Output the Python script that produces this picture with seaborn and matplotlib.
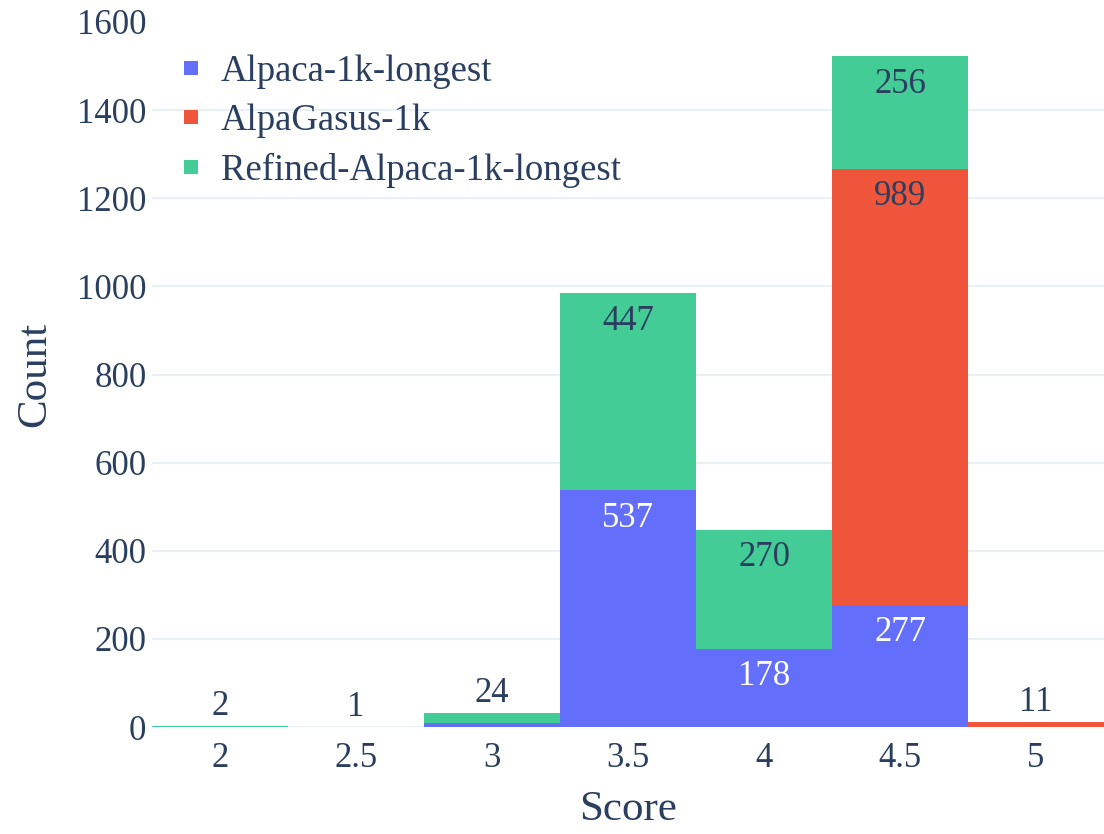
import numpy as np
import pandas as pd
import matplotlib
matplotlib.use("Agg")
import matplotlib.pyplot as plt
from matplotlib.lines import Line2D
import seaborn as sns

# Score bins and per-dataset counts
scores = [2, 2.5, 3, 3.5, 4, 4.5, 5]
score_labels = ["2", "2.5", "3", "3.5", "4", "4.5", "5"]
alpaca_longest = [0, 1, 8, 537, 178, 277, 0]
alpagasus = [0, 0, 0, 0, 0, 989, 11]
refined_longest = [2, 0, 24, 447, 270, 256, 0]

series_names = ["Alpaca-1k-longest", "AlpaGasus-1k", "Refined-Alpaca-1k-longest"]
series_values = [alpaca_longest, alpagasus, refined_longest]
colors = {"Alpaca-1k-longest": "#636EFA",
          "AlpaGasus-1k": "#EF553B",
          "Refined-Alpaca-1k-longest": "#44CC96"}
label_colors = {"Alpaca-1k-longest": "white",
                "AlpaGasus-1k": "#2a3f5f",
                "Refined-Alpaca-1k-longest": "#2a3f5f"}

TEXT = "#2a3f5f"
GRID = "#EBF0F8"

df = pd.DataFrame(
    [(s, name, v) for name, vals in zip(series_names, series_values)
     for s, v in zip(scores, vals)],
    columns=["Score", "Dataset", "Count"],
)

sns.set_theme(style="white")
plt.rcParams["font.family"] = ["Liberation Serif", "DejaVu Serif"]
plt.rcParams["text.color"] = TEXT

fig = plt.figure(figsize=(11.04, 8.34), dpi=100)
ax = fig.add_axes([152 / 1104, 107 / 834, 952 / 1104, 705 / 834])

# horizontal grid
for yv in range(200, 1600, 200):
    ax.axhline(yv, color=GRID, lw=1.5, zorder=0)
ax.axhline(0, color=GRID, lw=2.5, zorder=0)

edges = [1.75 + 0.5 * k for k in range(8)]
# seaborn stacks the last hue level at the bottom
sns.histplot(data=df, x="Score", weights="Count", hue="Dataset",
             hue_order=series_names[::-1], palette=colors,
             multiple="stack", bins=edges, element="bars",
             alpha=1, linewidth=0, legend=False, ax=ax, zorder=2)

# value labels: inside near the top when tall enough, above the stack otherwise
cum = np.zeros(len(scores))
tops = np.sum(np.array(series_values), axis=0)
for name, vals in zip(series_names, series_values):
    for i, (s, v) in enumerate(zip(scores, vals)):
        if v <= 0:
            continue
        top = cum[i] + v
        if v >= 60:
            ax.annotate(str(v), xy=(s, top), xytext=(0, -20),
                        textcoords="offset points", ha="center", va="center",
                        fontsize=25, color=label_colors[name], zorder=5)
        elif top == tops[i]:
            ax.annotate(str(v), xy=(s, top), xytext=(0, 14),
                        textcoords="offset points", ha="center", va="center",
                        fontsize=25, color=TEXT, zorder=5)
    cum += np.array(vals)

ax.set_xlim(1.75, 5.25)
ax.set_ylim(0, 1600)
ax.set_xticks(scores)
ax.set_xticklabels(score_labels)
ax.set_yticks(range(0, 1601, 200))
ax.tick_params(axis="both", length=0, labelsize=25, colors=TEXT)
ax.tick_params(axis="y", pad=4)
ax.tick_params(axis="x", pad=11)
for sp in ax.spines.values():
    sp.set_visible(False)

ax.set_xlabel("Score", fontsize=31, color=TEXT, labelpad=11)
ax.set_ylabel("Count", fontsize=31, color=TEXT, labelpad=16)

handles = [Line2D([0], [0], marker="s", linestyle="none", markersize=10,
                  markerfacecolor=colors[n], markeredgewidth=0)
           for n in series_names]
leg = ax.legend(handles, series_names, loc="upper left",
                bbox_to_anchor=(0.020, 0.965), frameon=False, fontsize=26.5,
                labelspacing=0.4, handlelength=0.7, handletextpad=0.45,
                borderpad=0.2, borderaxespad=0, labelcolor=TEXT)
leg.set_zorder(6)

fig.savefig("out.png", dpi=100, facecolor="white")
